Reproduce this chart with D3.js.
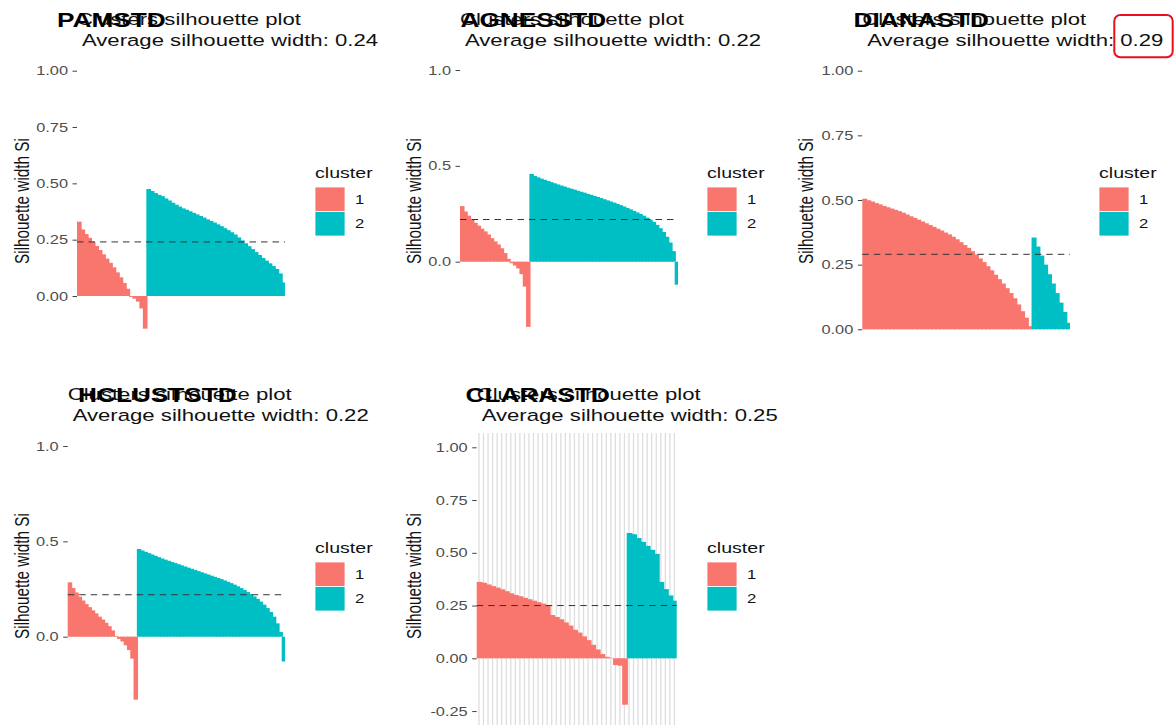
<!DOCTYPE html>
<html>
<head>
<meta charset="utf-8">
<script src="https://cdn.jsdelivr.net/npm/d3@7"></script>
<style>
  body { margin: 0; background: #fff; }
  text { font-family: "Liberation Sans", Arial, sans-serif; }
</style>
</head>
<body>
<svg id="chart" width="1176" height="725"></svg>
<script>
// ---- data: sorted silhouette widths per method and cluster ----
const methods = ["PAMSTD", "AGNESSTD", "DIANASTD", "HCLUSTSTD", "CLARASTD"];
const avgWidths = [0.24, 0.22, 0.29, 0.22, 0.25];
const clusterLabels = ["1", "2"];

const pamC1 = [0.33,0.295,0.275,0.258,0.24,0.222,0.204,0.185,0.166,0.147,0.127,0.105,0.083,0.058,0.032,-0.004,-0.012,-0.025,-0.055,-0.145];
const pamC2 = [0.475,0.466,0.457,0.449,0.443,0.433,0.424,0.414,0.405,0.397,0.389,0.383,0.376,0.369,0.362,0.355,0.348,0.34,0.333,0.326,0.318,0.31,0.301,0.292,0.283,0.273,0.26,0.247,0.234,0.221,0.208,0.195,0.182,0.169,0.157,0.145,0.133,0.12,0.1,0.06];

const agnesC1 = [0.29,0.262,0.24,0.22,0.203,0.188,0.172,0.158,0.142,0.123,0.106,0.09,0.07,0.045,0.015,-0.008,-0.02,-0.035,-0.065,-0.13,-0.34];
const agnesC2 = [0.458,0.448,0.44,0.433,0.427,0.421,0.415,0.409,0.403,0.397,0.392,0.386,0.381,0.376,0.37,0.365,0.36,0.354,0.349,0.343,0.338,0.332,0.326,0.32,0.314,0.308,0.302,0.295,0.288,0.28,0.273,0.265,0.257,0.249,0.24,0.23,0.219,0.207,0.192,0.175,0.155,0.13,0.1,0.055,-0.12];

const dianaC1 = [0.505,0.499,0.494,0.488,0.483,0.477,0.472,0.467,0.462,0.457,0.451,0.444,0.437,0.431,0.424,0.417,0.41,0.403,0.396,0.389,0.382,0.374,0.367,0.358,0.348,0.337,0.326,0.315,0.302,0.289,0.274,0.26,0.244,0.228,0.211,0.194,0.177,0.159,0.14,0.12,0.096,0.07,0.045,0.012];
const dianaC2 = [0.355,0.32,0.285,0.25,0.213,0.177,0.14,0.103,0.067,0.025];

const hclustC1 = [0.285,0.255,0.232,0.21,0.19,0.171,0.155,0.138,0.122,0.105,0.09,0.073,0.055,0.033,0.004,-0.012,-0.025,-0.045,-0.07,-0.115,-0.33];
const hclustC2 = [0.46,0.452,0.445,0.438,0.431,0.424,0.417,0.41,0.404,0.398,0.392,0.386,0.38,0.374,0.368,0.362,0.356,0.35,0.344,0.338,0.332,0.326,0.32,0.314,0.308,0.302,0.295,0.288,0.281,0.273,0.264,0.255,0.245,0.234,0.223,0.211,0.198,0.184,0.168,0.15,0.13,0.105,0.07,0.025,-0.13];

const claraC1 = [0.362,0.358,0.35,0.342,0.335,0.327,0.318,0.308,0.3,0.294,0.287,0.28,0.273,0.266,0.259,0.252,0.205,0.196,0.185,0.17,0.155,0.135,0.122,0.104,0.086,0.064,0.042,0.02,0.007,0.002,-0.032,-0.035,-0.22];
const claraC2 = [0.594,0.588,0.57,0.552,0.533,0.514,0.495,0.362,0.328,0.298,0.273];

// tick sets
const ticksQuarter = [0, 0.25, 0.5, 0.75, 1];
const ticksHalf = [0, 0.5, 1];
const ticksClara = [-0.25, 0, 0.25, 0.5, 0.75, 1];

// ---- styling / layout ----
const colors = ["#F8766D", "#00BFC4"];
const SX = 1.28;          // horizontal glyph stretch of the figure
const colW = 392, rowH = 375;
const titleLine1 = "Clusters silhouette plot";
const titleLine2 = v => " Average silhouette width: " + v.toFixed(2);

const panels = [
  { name: methods[0], c1: pamC1,    c2: pamC2,    avg: avgWidths[0], col: 0, row: 0, left: 77,    right: 285,   yZero: 296,   yOne: 70.7,  ticks: ticksQuarter, dec: 2, labelX: 57 },
  { name: methods[1], c1: agnesC1,  c2: agnesC2,  avg: avgWidths[1], col: 1, row: 0, left: 460,   right: 678,   yZero: 261.7, yOne: 70,    ticks: ticksHalf,    dec: 1, labelX: 460.5 },
  { name: methods[2], c1: dianaC1,  c2: dianaC2,  avg: avgWidths[2], col: 2, row: 0, left: 862.3, right: 1070,  yZero: 329.3, yOne: 70.7,  ticks: ticksQuarter, dec: 2, labelX: 853.5 },
  { name: methods[3], c1: hclustC1, c2: hclustC2, avg: avgWidths[3], col: 0, row: 1, left: 67.7,  right: 285,   yZero: 636.7, yOne: 446,   ticks: ticksHalf,    dec: 1, labelX: 78 },
  { name: methods[4], c1: claraC1,  c2: claraC2,  avg: avgWidths[4], col: 1, row: 1, left: 476.7, right: 676.7, yZero: 658.3, yOne: 447.3, ticks: ticksClara,   dec: 2, labelX: 465.5, grid: true }
];

const svg = d3.select("#chart");

function addText(g, str, x, y, o = {}) {
  return g.append("text")
    .attr("transform", `translate(${x},${y}) scale(${SX},1)` + (o.rotate ? " rotate(-90)" : ""))
    .attr("text-anchor", o.anchor || "start")
    .style("font-size", o.size + "px")
    .style("font-weight", o.weight || "normal")
    .style("fill", o.fill || "#000")
    .style("white-space", "pre")
    .text(str);
}

panels.forEach(p => {
  const x0 = p.col * colW, r0 = p.row * rowH;
  const g = svg.append("g");

  const values = p.c1.concat(p.c2);
  const obs = values.map((v, i) => ({ i, v, cluster: i < p.c1.length ? 0 : 1 }));

  const x = d3.scaleBand().domain(d3.range(values.length)).range([p.left, p.right]).paddingInner(0).paddingOuter(0);
  const y = d3.scaleLinear().domain([0, 1]).range([p.yZero, p.yOne]);

  // vertical grid at each observation
  if (p.grid) {
    g.append("g").selectAll("line").data(obs).join("line")
      .attr("x1", d => x(d.i) + x.bandwidth() / 2)
      .attr("x2", d => x(d.i) + x.bandwidth() / 2)
      .attr("y1", r0 + 58).attr("y2", 725)
      .attr("stroke", "#dedede").attr("stroke-width", 1.3);
  }

  // bars (slight overlap so neighbouring bars leave no seam)
  g.append("g").selectAll("rect").data(obs).join("rect")
    .attr("x", d => x(d.i))
    .attr("width", d => x.bandwidth() + (d.i < values.length - 1 ? 1.2 : 0))
    .attr("y", d => y(Math.max(0, d.v)))
    .attr("height", d => Math.abs(y(d.v) - y(0)))
    .attr("fill", d => colors[d.cluster]);

  // average silhouette width
  g.append("line")
    .attr("x1", p.left).attr("x2", p.right)
    .attr("y1", y(p.avg)).attr("y2", y(p.avg))
    .attr("stroke", "#333").attr("stroke-width", 1)
    .attr("stroke-dasharray", "6.5,5");

  // y axis
  const axis = d3.axisLeft(y).tickValues(p.ticks).tickFormat(d => d.toFixed(p.dec)).tickSize(4.5).tickPadding(4.5);
  const ag = g.append("g").attr("transform", `translate(${p.left},0)`).call(axis);
  ag.select(".domain").remove();
  ag.selectAll(".tick line").attr("stroke", "#444").attr("stroke-width", 1);
  ag.selectAll(".tick text")
    .attr("fill", "#4d4d4d")
    .style("font-size", "12.8px")
    .style("font-family", '"Liberation Sans", Arial, sans-serif')
    .each(function () {
      const t = d3.select(this);
      t.attr("x", +t.attr("x") / SX).attr("transform", `scale(${SX},1)`);
    });

  addText(g, "Silhouette width Si", x0 + 29, r0 + 201, { size: 15.3, anchor: "middle", rotate: true, fill: "#111" });

  // titles
  addText(g, titleLine1, p.left, r0 + 25, { size: 17.3, fill: "#111" });
  addText(g, titleLine2(p.avg), p.left, r0 + 46, { size: 17.3, fill: "#111" });
  addText(g, p.name, p.labelX, r0 + 26.5, { size: 20.5, weight: "bold" });

  // legend
  const lx = x0 + 315;
  addText(g, "cluster", lx, r0 + 178, { size: 15.3, fill: "#111" });
  clusterLabels.forEach((lab, k) => {
    const ky = r0 + 187 + k * 24.5;
    g.append("rect").attr("x", lx).attr("y", ky).attr("width", 30).attr("height", 24.5)
      .attr("fill", colors[k]).attr("stroke", "#fff").attr("stroke-width", 0.8);
    addText(g, lab, lx + 40, ky + 12.25 + 4.6, { size: 13, fill: "#111" });
  });
});

// highlight around the DIANA average
svg.append("rect")
  .attr("x", 1114.3).attr("y", 15).attr("width", 58.4).attr("height", 42.3)
  .attr("rx", 6).attr("fill", "none").attr("stroke", "#e8101c").attr("stroke-width", 2);
</script>
</body>
</html>
